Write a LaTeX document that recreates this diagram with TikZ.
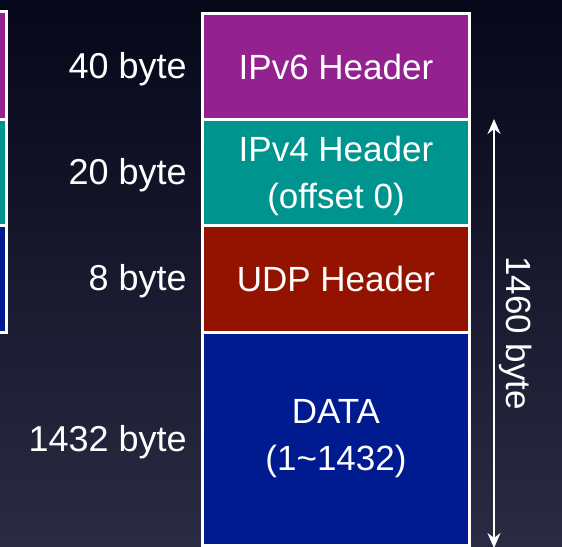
\documentclass[tikz,border=0pt]{standalone}
\usepackage{fontspec}
\setmainfont{Liberation Sans}
\usepackage{xcolor}
\usepackage{tikz}
\usetikzlibrary{positioning,arrows.meta}

\definecolor{sixcol}{HTML}{93218F}
\definecolor{fourcol}{HTML}{00948F}
\definecolor{udpcol}{HTML}{941300}
\definecolor{datacol}{HTML}{001A8F}
\definecolor{bgtop}{HTML}{07071A}
\definecolor{bgbot}{HTML}{2A2A42}

\begin{document}
\begin{tikzpicture}[x=1pt, y=-1pt,
  every node/.style={text=white, font=\fontsize{35}{47}\selectfont},
  block/.style={draw=white, line width=3pt, minimum width=267pt, inner sep=0pt, align=center, anchor=north west},
  size/.style={anchor=east, inner sep=0pt, font=\fontsize{36}{47}\selectfont}]
  % background
  \shade[top color=bgtop, bottom color=bgbot] (0,0) rectangle (562,546);
  \useasboundingbox (0,0) rectangle (562,546);

  % cut off blocks on the left
  \node[block, minimum width=40pt, minimum height=108pt, fill=sixcol] (l6) at (-35,10) {};
  \node[block, minimum width=40pt, minimum height=106pt, fill=fourcol] (l4) at (-35,118) {};
  \node[block, minimum width=40pt, minimum height=107pt, fill=datacol] (ld) at (-35,224) {};

  \node[block, minimum height=106pt, fill=sixcol] (ipv6) at (201,12) {IPv6 Header};
  \node[block, minimum height=106pt, fill=fourcol] (ipv4) at (201,118) {\rule{0pt}{32pt}IPv4 Header\\(offset 0)};
  \node[block, minimum height=107pt, fill=udpcol] (udp) at (201,224) {UDP Header};
  \node[block, minimum height=213pt, fill=datacol] (data) at (201,331) {DATA\\(1\textasciitilde1432)};

  \node[size] (s6) at (187,69) {40 byte};
  \node[size] (s4) at (187,175) {20 byte};
  \node[size] (su) at (187,281) {8 byte};
  \node[size] (sd) at (187,442) {1432 byte};

  \coordinate (top) at (494,119);
  \coordinate (bot) at (494,548);
  \draw[white, line width=2pt, {Stealth[length=15pt,width=13pt,inset=5pt]}-{Stealth[length=15pt,width=13pt,inset=5pt]}] (top) -- (bot);
  \node[rotate=-90, inner sep=0pt] (total) at (516,333) {1460 byte};
\end{tikzpicture}
\end{document}
